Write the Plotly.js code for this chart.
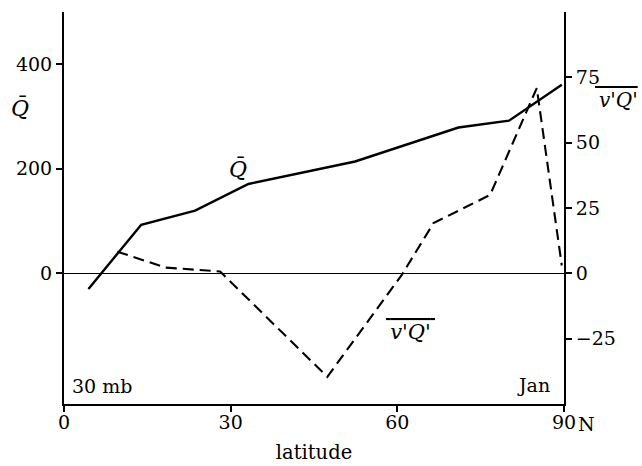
<!DOCTYPE html>
<html>
<head>
<meta charset="utf-8">
<script src="https://cdn.plot.ly/plotly-3.0.1.min.js"></script>
<style>
  html, body { margin: 0; padding: 0; background: #fff; }
  #chart { width: 642px; height: 466px; }
</style>
</head>
<body>
<div id="chart"></div>
<script>
// Zonal-mean Q and its eddy meridional flux v'Q' at 30 mb, January
const latQ  = [4.4, 13.9, 23.6, 33.2, 52.4, 71.0, 80.1, 89.6];
const Qbar  = [-30, 93, 120, 171, 214, 279, 292, 361];

const latVQ = [9.6, 18.3, 28.1, 47.4, 60.8, 66.5, 76.7, 85.1, 89.6];
const vQ    = [8.3, 2.2, 0.7, -39.6, -0.6, 19.2, 30.0, 70.9, 3.0];

const latTicks   = [0, 30, 60, 90];
const latLabels  = ['0', '30', '60', '90'];
const qTicks     = [0, 200, 400];
const fluxTicks  = [-25, 0, 25, 50, 75];

const FONT = 'DejaVu Serif, serif';
const INK = '#000';

const traces = [
  {
    x: latQ, y: Qbar, type: 'scatter', mode: 'lines',
    line: { color: INK, width: 2.4 },
    xaxis: 'x', yaxis: 'y', hoverinfo: 'skip'
  },
  {
    x: latVQ, y: vQ, type: 'scatter', mode: 'lines',
    line: { color: INK, width: 2.1, dash: '11px,6px' },
    xaxis: 'x', yaxis: 'y2', hoverinfo: 'skip'
  }
];

// overlined flux symbol; thin spaces let the bar run a little past the letters
const fluxLabel = '<span style="text-decoration:overline">&#8201;<i>v\'Q\'</i>&#8201;</span>';
const fluxAxisLabel = '<span style="text-decoration:overline">&#8201;<i>v\'Q\'</i></span>';

const layout = {
  width: 642, height: 466,
  margin: { l: 63.5, r: 78, t: 12, b: 62, pad: 0 },
  paper_bgcolor: '#fff', plot_bgcolor: '#fff',
  showlegend: false,
  font: { family: FONT, size: 19, color: INK },
  xaxis: {
    range: [0, 90], showgrid: false, zeroline: false,
    showline: true, linecolor: INK, linewidth: 2,
    ticks: 'outside', ticklen: 6, tickwidth: 2, tickcolor: INK,
    ticklabelstandoff: -6,
    tickvals: latTicks, ticktext: latLabels,
    tickfont: { family: FONT, size: 19, color: INK },
    title: { text: 'latitude', font: { family: FONT, size: 19.5, color: INK }, standoff: 14 },
    fixedrange: true
  },
  yaxis: {
    range: [-250, 500], showgrid: false,
    zeroline: true, zerolinecolor: INK, zerolinewidth: 1.5,
    showline: true, linecolor: INK, linewidth: 2,
    ticks: 'outside', ticklen: 6, tickwidth: 2, tickcolor: INK,
    tickvals: qTicks,
    tickfont: { family: FONT, size: 19, color: INK },
    fixedrange: true
  },
  yaxis2: {
    range: [-50, 100], overlaying: 'y', side: 'right', anchor: 'x',
    showgrid: false, zeroline: false,
    showline: true, linecolor: INK, linewidth: 2,
    ticks: 'outside', ticklen: 6, tickwidth: 2, tickcolor: INK,
    tickvals: fluxTicks,
    tickfont: { family: FONT, size: 19, color: INK },
    fixedrange: true
  },
  annotations: [
    // left axis quantity
    { text: '<i>Q̄</i>', xref: 'paper', yref: 'paper', x: -0.089, y: 0.755,
      showarrow: false, xanchor: 'center', yanchor: 'middle', font: { size: 22 } },
    // right axis quantity
    { text: fluxAxisLabel, xref: 'paper', yref: 'paper', x: 1.151, y: 0.776,
      showarrow: false, xanchor: 'right', yanchor: 'middle', font: { size: 20 } },
    // curve labels
    { text: '<i>Q̄</i>', xref: 'x', yref: 'y', x: 31.4, y: 200,
      showarrow: false, xanchor: 'center', yanchor: 'middle', font: { size: 22 } },
    { text: fluxLabel, xref: 'x', yref: 'y2', x: 62.3, y: -22.4,
      showarrow: false, xanchor: 'center', yanchor: 'middle', font: { size: 21 } },
    // panel tags
    { text: '30 mb', xref: 'paper', yref: 'paper', x: 0.012, y: 0.046,
      showarrow: false, xanchor: 'left', yanchor: 'middle' },
    { text: 'Jan', xref: 'paper', yref: 'paper', x: 0.976, y: 0.048,
      showarrow: false, xanchor: 'right', yanchor: 'middle' },
    // hemisphere letter after the last latitude tick
    { text: 'N', xref: 'x', yref: 'paper', x: 90, y: -0.051, xshift: 12,
      showarrow: false, xanchor: 'left', yanchor: 'middle' }
  ]
};

Plotly.newPlot('chart', traces, layout, { staticPlot: true, displayModeBar: false });
</script>
</body>
</html>
